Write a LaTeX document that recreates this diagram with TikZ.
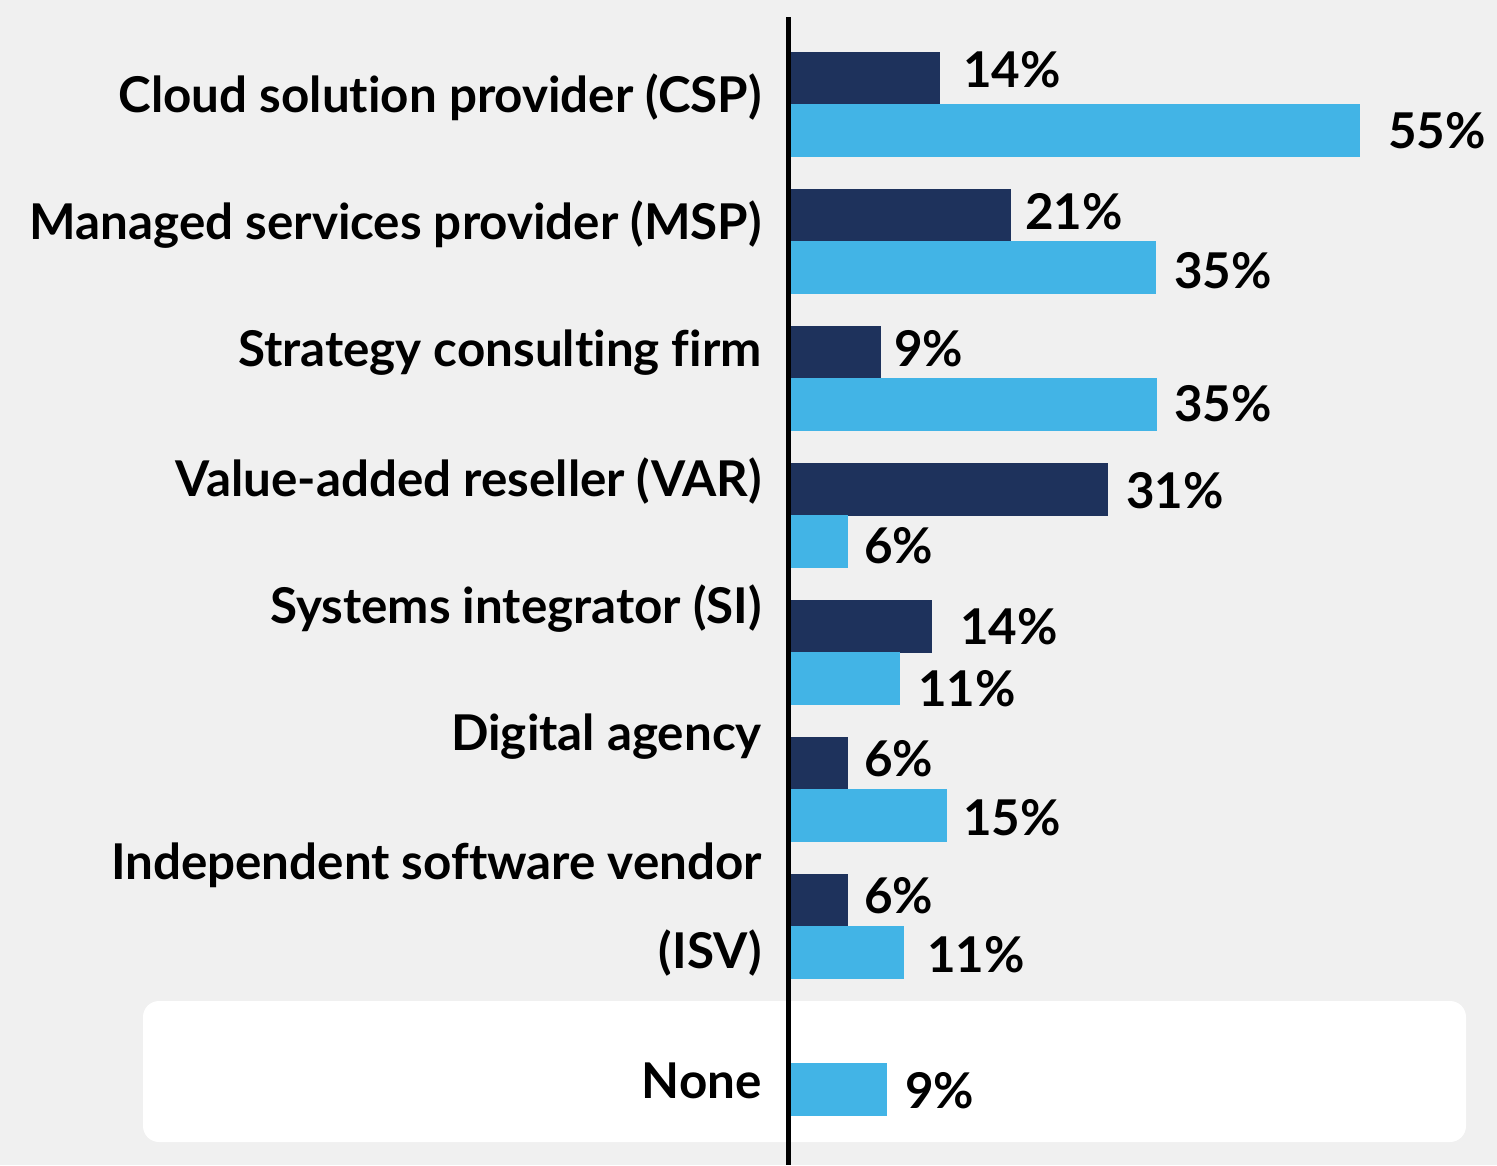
\documentclass[tikz,border=0pt]{standalone}
\usepackage{fontspec}
\setmainfont{Lato}[Ligatures=NoCommon]
\definecolor{bg}{HTML}{F0F0F0}
\definecolor{navy}{HTML}{1E325C}
\definecolor{sky}{HTML}{42B4E6}
\begin{document}
\begin{tikzpicture}[x=0.75pt,y=-0.75pt,
  cat/.style={anchor=east,inner sep=0pt,font=\fontsize{37}{40}\selectfont\bfseries},
  val/.style={anchor=west,inner sep=0pt,font=\fontsize{37}{40}\selectfont\bfseries},
  darkbar/.style={fill=navy},
  lightbar/.style={fill=sky}]
\fill[bg] (0,0) rectangle (1497,1165);
\useasboundingbox (0,0) rectangle (1497,1165);
\fill[white,rounded corners=12] (143,1001) rectangle (1466,1142);
% bars
\fill[darkbar] (791,52) rectangle (940,105);
\fill[lightbar] (791,104) rectangle (1360,157);
\fill[darkbar] (791,189) rectangle (1011,242);
\fill[lightbar] (791,241) rectangle (1156,294);
\fill[darkbar] (791,326) rectangle (881,379);
\fill[lightbar] (791,378) rectangle (1157,431);
\fill[darkbar] (791,463) rectangle (1108,516);
\fill[lightbar] (791,515) rectangle (848,568);
\fill[darkbar] (791,600) rectangle (932,653);
\fill[lightbar] (791,652) rectangle (900,705);
\fill[darkbar] (791,737) rectangle (848,790);
\fill[lightbar] (791,789) rectangle (947,842);
\fill[darkbar] (791,874) rectangle (848,927);
\fill[lightbar] (791,926) rectangle (904,979);
\fill[lightbar] (791,1063) rectangle (887,1116);
% axis
\coordinate (axtop) at (788.5,17);
\coordinate (axbot) at (788.5,1165);
\draw[line width=3.4pt,black] (axtop) -- (axbot);
% category labels
\node[cat] (c1) at (762,97) {Cloud solution provider (CSP)};
\node[cat] (c2) at (762,225) {Managed services provider (MSP)};
\node[cat] (c3) at (762,353) {Strategy consulting firm};
\node[cat] (c4) at (762,481) {Value-added reseller (VAR)};
\node[cat] (c5) at (762,609) {Systems integrator (SI)};
\node[cat] (c6) at (762,737) {Digital agency};
\node[cat] (c7a) at (762,865) {Independent software vendor};
\node[cat] (c7b) at (762,953) {(ISV)};
\node[cat] (c8) at (762,1081) {None};
% values
\node[val] (v1a) at (963,70) {14\%};
\node[val] (v1b) at (1388,131) {55\%};
\node[val] (v2a) at (1025,212) {21\%};
\node[val] (v2b) at (1174,271) {35\%};
\node[val] (v3a) at (894,349) {9\%};
\node[val] (v3b) at (1174,404) {35\%};
\node[val] (v4a) at (1126,491) {31\%};
\node[val] (v4b) at (864,546) {6\%};
\node[val] (v5a) at (960,627) {14\%};
\node[val] (v5b) at (918,689) {11\%};
\node[val] (v6a) at (864,759) {6\%};
\node[val] (v6b) at (963,818) {15\%};
\node[val] (v7a) at (864,896) {6\%};
\node[val] (v7b) at (927,955) {11\%};
\node[val] (v8) at (905,1091) {9\%};
\end{tikzpicture}
\end{document}
